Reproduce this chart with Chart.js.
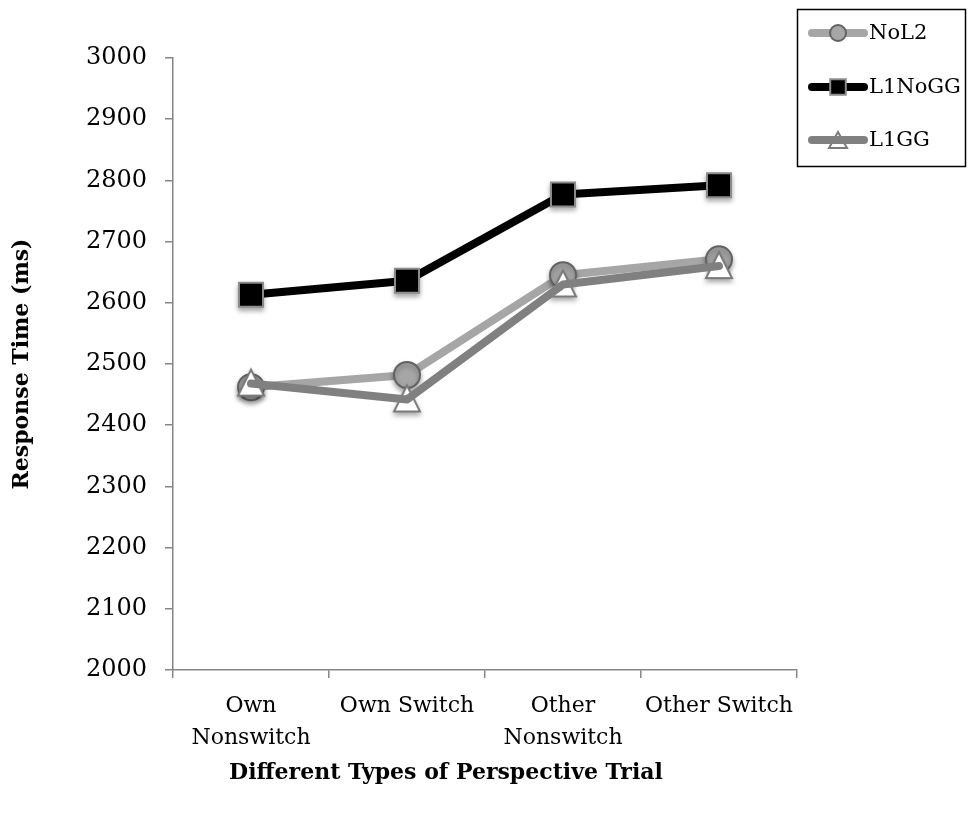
<!DOCTYPE html>
<html>
<head>
<meta charset="utf-8">
<script src="https://cdn.jsdelivr.net/npm/chart.js@4"></script>
<style>
  html, body { margin: 0; padding: 0; background: #fff; }
  #wrap { width: 968px; height: 816px; }
</style>
</head>
<body>
<div id="wrap"><canvas id="rtChart" width="968" height="816"></canvas></div>
<script>
// --- Data ---
const trialTypes = [['Own', 'Nonswitch'], 'Own Switch', ['Other', 'Nonswitch'], 'Other Switch'];
const noL2 = [2462, 2482, 2645, 2671];
const l1NoGG = [2613, 2636, 2777, 2792];
const l1GG = [2468, 2442, 2630, 2660];
const xTitle = 'Different Types of Perspective Trial';
const yTitle = 'Response Time (ms)';

const serif = "'DejaVu Serif', 'Liberation Serif', serif";
const axisGray = '#868686';

// Excel-style triangle: sits a bit below the point, hollow
function triPath(c, x, y, half, up, down) {
    c.beginPath();
    c.moveTo(x, y - up);
    c.lineTo(x + half, y + down);
    c.lineTo(x - half, y + down);
    c.closePath();
}

function makeTriangle(half, up, down) {
    const cv = document.createElement('canvas');
    const h = Math.max(up, down) + 4;
    cv.width = half * 2 + 6;
    cv.height = h * 2;
    const c = cv.getContext('2d');
    triPath(c, cv.width / 2, h, half, up, down);
    c.fillStyle = '#ffffff';
    c.fill();
    c.lineWidth = 2;
    c.lineJoin = 'miter';
    c.strokeStyle = '#7a7a7a';
    c.stroke();
    return cv;
}
const triMarker = makeTriangle(13, 14, 12);

// Legend drawn by hand, boxed at top right like the original.
// The x title also goes here since it sits left of the plot centre.
const boxLegend = {
    id: 'boxLegend',
    afterDraw(chart) {
        const ctx = chart.ctx;
        ctx.save();
        ctx.fillStyle = '#000';
        ctx.font = 'bold 22px ' + serif;
        ctx.textAlign = 'center';
        ctx.textBaseline = 'middle';
        ctx.fillText(xTitle, 446, 773);

        ctx.strokeStyle = '#000';
        ctx.lineWidth = 1.5;
        ctx.strokeRect(797.5, 9.5, 168, 157);
        const rows = [33, 87, 140];
        chart.data.datasets.forEach((ds, i) => {
            const y = rows[i];
            const isTri = ds.pointStyle === triMarker;
            if (isTri) {
                triPath(ctx, 838, y + 1, 9, 9, 7);
                ctx.fillStyle = '#fff';
                ctx.fill();
                ctx.lineWidth = 2;
                ctx.strokeStyle = ds.pointBorderColor;
                ctx.stroke();
            }
            ctx.beginPath();
            ctx.lineCap = 'round';
            ctx.lineWidth = ds.borderWidth;
            ctx.strokeStyle = ds.borderColor;
            ctx.moveTo(812, y);
            ctx.lineTo(864, y);
            ctx.stroke();
            if (!isTri) {
                ctx.lineWidth = ds.pointBorderWidth;
                ctx.strokeStyle = ds.pointBorderColor;
                ctx.fillStyle = ds.pointBackgroundColor;
                Chart.helpers.drawPoint(ctx, {
                    pointStyle: ds.pointStyle,
                    rotation: 0,
                    radius: ds.pointStyle === 'rect' ? 11 : 8,
                    borderWidth: ds.pointBorderWidth
                }, 838, y);
            }
            ctx.fillStyle = '#000';
            ctx.font = '21px ' + serif;
            ctx.textBaseline = 'middle';
            ctx.textAlign = 'left';
            ctx.fillText(ds.label, 869, y + 1);
        });
        ctx.restore();
    }
};

// soft drop shadow under the markers; triangles sit under their own line
const markerShadow = {
    id: 'markerShadow',
    beforeDatasetDraw(chart, args) {
        const meta = args.meta;
        const ctx = chart.ctx;
        const lineOnTop = meta._dataset.pointStyle === triMarker;
        if (!lineOnTop) meta.dataset.draw(ctx, chart.chartArea);
        ctx.save();
        ctx.shadowColor = 'rgba(0,0,0,0.35)';
        ctx.shadowBlur = 5;
        ctx.shadowOffsetY = 3;
        meta.data.forEach(pt => pt.draw(ctx, chart.chartArea));
        ctx.restore();
        if (lineOnTop) meta.dataset.draw(ctx, chart.chartArea);
        return false;
    }
};

const ctx = document.getElementById('rtChart');
new Chart(ctx, {
    type: 'line',
    data: {
        labels: trialTypes,
        datasets: [
            {
                label: 'NoL2',
                data: noL2,
                order: 3,
                borderColor: '#a6a6a6',
                borderWidth: 8,
                pointStyle: 'circle',
                pointRadius: 13,
                pointBackgroundColor: '#a6a6a6',
                pointBorderColor: '#626262',
                pointBorderWidth: 2
            },
            {
                label: 'L1NoGG',
                data: l1NoGG,
                order: 2,
                borderColor: '#000000',
                borderWidth: 8,
                pointStyle: 'rect',
                pointRadius: 17,
                pointBackgroundColor: '#000000',
                pointBorderColor: '#8c8c8c',
                pointBorderWidth: 2
            },
            {
                label: 'L1GG',
                data: l1GG,
                order: 1,
                borderColor: '#808080',
                borderWidth: 8,
                pointStyle: triMarker,
                pointRadius: 15,
                pointBackgroundColor: '#ffffff',
                pointBorderColor: '#7a7a7a',
                pointBorderWidth: 2
            }
        ]
    },
    options: {
        responsive: false,
        animation: false,
        layout: { padding: { left: 0, right: 171, top: 58, bottom: 0 } },
        elements: {
            line: { tension: 0, borderCapStyle: 'round', borderJoinStyle: 'round' }
        },
        scales: {
            x: {
                offset: true,
                grid: { offset: true, drawOnChartArea: false, drawTicks: true, tickLength: 8, color: axisGray, lineWidth: 1.5 },
                border: { color: axisGray, width: 1.5 },
                ticks: { color: '#000', padding: 12, maxRotation: 0, autoSkip: false, font: { family: serif, size: 22, lineHeight: 1.45 } },
                afterFit(scale) { scale.height = 146; }
            },
            y: {
                min: 2000,
                max: 3000,
                grid: { drawOnChartArea: false, drawTicks: true, tickLength: 8, color: axisGray, lineWidth: 1.5 },
                border: { color: axisGray, width: 1.5 },
                ticks: {
                    stepSize: 100,
                    color: '#000',
                    padding: 18,
                    font: { family: serif, size: 24 },
                    callback: v => String(v)
                },
                title: {
                    display: true,
                    text: yTitle,
                    color: '#000',
                    font: { family: serif, size: 22, weight: 'bold' },
                    padding: { top: 9, bottom: 0 }
                },
                afterFit(scale) { scale.width = 173; }
            }
        },
        plugins: {
            legend: { display: false },
            tooltip: { enabled: false }
        }
    },
    plugins: [markerShadow, boxLegend]
});
</script>
</body>
</html>
